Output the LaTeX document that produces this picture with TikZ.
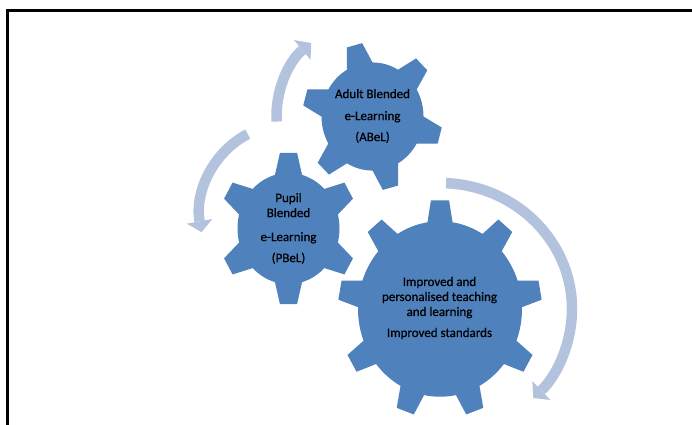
\documentclass[tikz,border=0pt]{standalone}
\usepackage{fontspec}
\setmainfont{Carlito}
\newfontfamily\geartextfont[FakeBold=0.6]{Carlito}
\usetikzlibrary{arrows.meta}
\definecolor{gearblue}{HTML}{4F81BD}
\definecolor{flowblue}{HTML}{B3C3DE}
% #1 cx, #2 cy, #3 yscale, #4 teeth, #5 offset, #6 body r, #7 outer R, #8 base half-angle, #9 tip half-angle
\newcommand\gearshape[9]{%
  \fill[gearfill, shift={(#1,#2)}, yscale=-#3]
    ({#5-#8}:#6)
    \foreach \gi in {1,...,#4}{
      -- ({#5+(\gi-1)*360/#4-#9}:#7)
      -- ({#5+(\gi-1)*360/#4+#9}:#7)
      -- ({#5+(\gi-1)*360/#4+#8}:#6)
      arc[start angle={#5+(\gi-1)*360/#4+#8}, end angle={#5+\gi*360/#4-#8}, radius=#6]
    } -- cycle;
}
\tikzset{
  gearfill/.style={fill=gearblue},
  flow/.style={draw=flowblue, line width=10.5pt, -{Triangle[width=26pt,length=11pt,line width=0pt]}, flowblue},
  geartext/.style={align=center, text=black, font=\geartextfont\fontsize{13}{15}\selectfont, inner sep=0pt},
  frameline/.style={line width=3pt, black}
}
\begin{document}
\begin{tikzpicture}[x=1pt,y=-1pt]
\useasboundingbox (0,0) rectangle (692,424);
\fill[white] (0,0) rectangle (692,424);
\draw[frameline] (7,430) -- (7,10) -- (700,10);
% circular arrows
\draw[flow, shift={(372.5,116.5)}, yscale=-1] (183:96) arc[start angle=183, end angle=130, radius=96];
\draw[flow, shift={(285,215)}, yscale=-1] (116:85 and 90) arc[start angle=116, end angle=191, x radius=85, y radius=90];
\draw[flow, shift={(440,309)}, yscale=-1] (87.4:132 and 126) arc[start angle=87.4, end angle=-45, x radius=132, y radius=126];
% gears
\gearshape{372.5}{116.5}{1.06}{6}{105}{51}{70}{15}{6.5}
\gearshape{288.5}{228.5}{1.09}{6}{90}{51}{70}{15.4}{7}
\gearshape{440}{309}{1.07}{9}{90}{82}{102}{8.8}{5.1}
% texts
\node[geartext] (abel) at (372.5,116) {Adult Blended\\[7pt]e-Learning\\[6pt](ABeL)};
\node[geartext] (pbel) at (288.5,228.5) {Pupil\\Blended\\[9pt]e-Learning\\[6pt](PBeL)};
\node[geartext] (impr) at (439.5,308) {Improved and\\personalised teaching\\and learning\\[6pt]Improved standards};
\end{tikzpicture}
\end{document}
